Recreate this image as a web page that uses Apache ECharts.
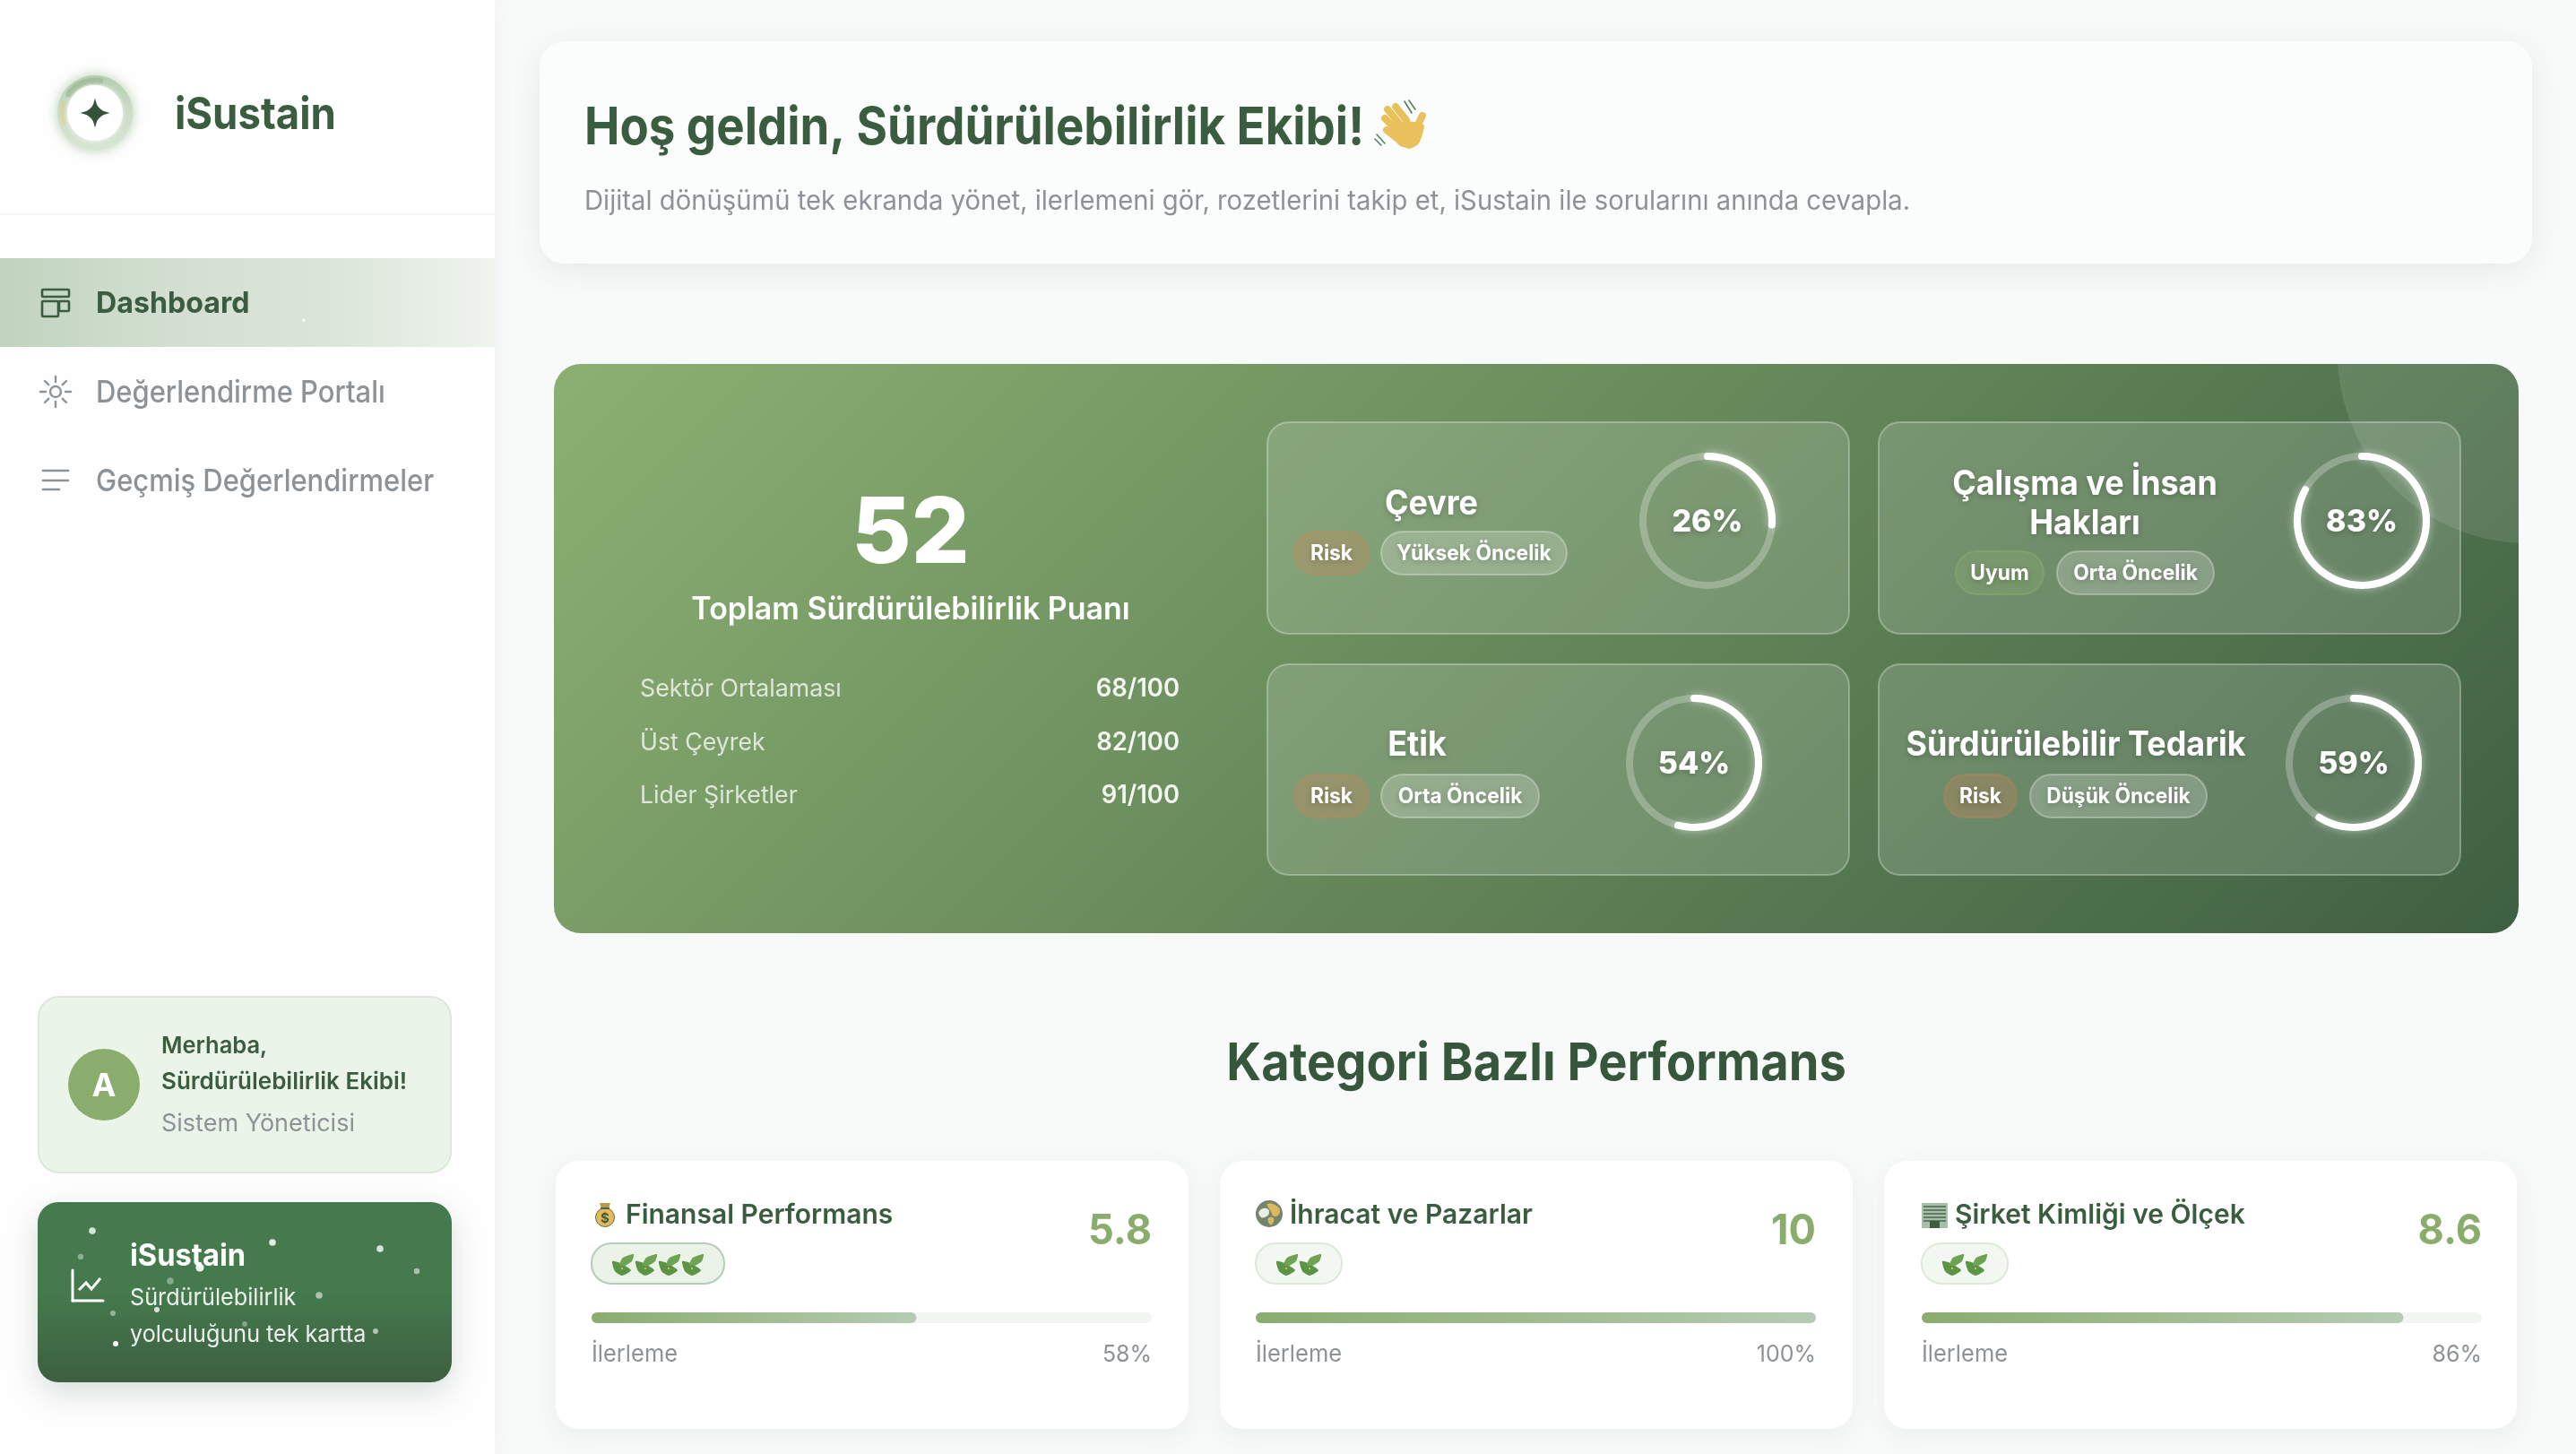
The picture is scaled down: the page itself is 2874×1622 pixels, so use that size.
<!DOCTYPE html>
<html lang="tr">
<head>
<meta charset="utf-8">
<title>iSustain</title>
<script src="https://cdn.jsdelivr.net/npm/echarts@6/dist/echarts.min.js"></script>
<style>
html, body { margin: 0; padding: 0; background: #f8faf9; }
#main { width: 2874px; height: 1622px; }
</style>
</head>
<body>
<div id="main"></div>
<script>
// veriler
var totalScore = 52;
var benchmarkLabels = ['Sektör Ortalaması', 'Üst Çeyrek', 'Lider Şirketler'];
var benchmarkValues = ['68/100', '82/100', '91/100'];
var pillarNames = ['Çevre', 'Çalışma ve İnsan Hakları', 'Etik', 'Sürdürülebilir Tedarik'];
var pillarScores = [26, 83, 54, 59];
var pillarTypes = ['Risk', 'Uyum', 'Risk', 'Risk'];
var pillarPriorities = ['Yüksek Öncelik', 'Orta Öncelik', 'Orta Öncelik', 'Düşük Öncelik'];
var categoryNames = ['Finansal Performans', 'İhracat ve Pazarlar', 'Şirket Kimliği ve Ölçek'];
var categoryScores = ['5.8', '10', '8.6'];
var categoryProgress = [58, 100, 86];
var categoryLeaves = [4, 2, 2];
var navItems = ['Dashboard', 'Değerlendirme Portalı', 'Geçmiş Değerlendirmeler'];

// renkler
var DARK = '#3a5c3f';
var GREEN = '#8aad6e';
var GRAY = '#8d9296';
var FONT = 'Inter';

var elements = [];

function add(type, shape, style, extra) {
    var el = { type: type, shape: shape, style: style };
    for (var k in extra) {
        el[k] = extra[k];
    }
    elements.push(el);
}

function rect(x, y, w, h, r, style) {
    add('rect', { x: x, y: y, width: w, height: h, r: r }, style);
}

function circle(cx, cy, r, style) {
    add('circle', { cx: cx, cy: cy, r: r }, style);
}

function line(x1, y1, x2, y2, color, w) {
    add('line', { x1: x1, y1: y1, x2: x2, y2: y2 }, { stroke: color, lineWidth: w, lineCap: 'round' });
}

// sx: referanstaki dar harf aralığı için yatay sıkıştırma
function text(x, y, str, size, weight, fill, align, sx, shadow) {
    var style = {
        text: str,
        x: 0,
        y: 0,
        fill: fill,
        font: weight + ' ' + size + 'px ' + FONT,
        textAlign: align || 'left',
        textVerticalAlign: 'middle'
    };
    if (shadow) {
        style.textShadowColor = 'rgba(0,0,0,0.22)';
        style.textShadowBlur = 6;
        style.textShadowOffsetY = 2;
    }
    elements.push({ type: 'text', x: x, y: y + 2, scaleX: sx || 1, style: style });
}

function linear(x, y, x2, y2, stops) {
    var list = [];
    for (var i = 0; i < stops.length; i++) {
        list.push({ offset: i / (stops.length - 1), color: stops[i] });
    }
    return { type: 'linear', x: x, y: y, x2: x2, y2: y2, global: true, colorStops: list };
}

/* ---------- sol menü ---------- */
function drawSidebar() {
    rect(0, 0, 552, 1622, 0, { fill: '#fefefe', shadowBlur: 24, shadowColor: 'rgba(60,80,60,0.05)' });
    line(0, 239, 552, 239, '#f3f5f3', 2);

    // logo
    circle(106, 126, 42, { fill: linear(0, 84, 0, 168, ['#b4cdb1', '#cbdcc7', '#d9e6d5']), shadowBlur: 14, shadowColor: 'rgba(150,185,140,0.7)' });
    add('arc', { cx: 106, cy: 126, r: 36, startAngle: Math.PI * 1.2, endAngle: Math.PI * 1.55 }, { stroke: 'rgba(150,180,135,0.6)', lineWidth: 7, fill: null, lineCap: 'round' });
    add('arc', { cx: 106, cy: 126, r: 36, startAngle: Math.PI * 0.9, endAngle: Math.PI * 1.1 }, { stroke: 'rgba(232,205,120,0.45)', lineWidth: 5, fill: null, lineCap: 'round' });
    circle(106, 126, 31, { fill: '#ffffff', shadowBlur: 5, shadowColor: 'rgba(255,255,255,0.9)' });
    var star = [];
    for (var i = 0; i < 32; i++) {
        var a = i / 32 * Math.PI * 2;
        var c = Math.abs(Math.cos(a));
        var s = Math.abs(Math.sin(a));
        var r = 16.5 / Math.pow(Math.pow(c, 0.6) + Math.pow(s, 0.6), 1 / 0.6);
        star.push([106 + Math.cos(a) * r, 126 + Math.sin(a) * r]);
    }
    add('polygon', { points: star }, { fill: '#35533b' });
    text(195, 127, 'iSustain', 50, 700, DARK, 'left', 0.91);

    // aktif satır
    rect(0, 288, 552, 99, 0, { fill: linear(0, 0, 552, 0, ['#c1d3bf', '#d2dfd0', '#dbe5d9', '#eff4ee']) });
    circle(339, 357, 2, { fill: 'rgba(255,255,255,0.6)' });

    text(107, 337, navItems[0], 33, 700, DARK, 'left', 0.975);
    text(107, 437, navItems[1], 34, 500, GRAY, 'left', 0.91);
    text(107, 536, navItems[2], 34, 500, GRAY, 'left', 0.91);

    // menü ikonları
    var iconStyle = { stroke: DARK, fill: null, lineWidth: 2.6 };
    rect(47, 323, 30, 8, 1, iconStyle);
    rect(47, 336, 18, 17, 1, iconStyle);
    rect(66, 336, 11, 11, 1, iconStyle);

    circle(62, 437, 6, { stroke: GRAY, fill: null, lineWidth: 2.4 });
    for (var n = 0; n < 8; n++) {
        var t = n / 8 * Math.PI * 2;
        line(62 + Math.cos(t) * 11, 437 + Math.sin(t) * 11, 62 + Math.cos(t) * 17, 437 + Math.sin(t) * 17, GRAY, 2.4);
    }
    line(48, 525, 76, 525, GRAY, 2.6);
    line(48, 536, 76, 536, GRAY, 2.6);
    line(48, 546, 66, 546, GRAY, 2.6);

    // kullanıcı kartı
    rect(43, 1112, 460, 196, 23, { fill: '#eaf4e8', stroke: '#dce8da', lineWidth: 2 });
    circle(116, 1210, 40, { fill: GREEN });
    text(116, 1210, 'A', 36, 700, '#ffffff', 'center');
    text(180, 1165, 'Merhaba,', 26, 600, DARK, 'left', 0.98);
    text(180, 1205, 'Sürdürülebilirlik Ekibi!', 26, 600, DARK);
    text(180, 1252, 'Sistem Yöneticisi', 27, 400, GRAY);

    // koyu kart
    rect(42, 1341, 462, 201, 23, {
        fill: linear(0, 1341, 0, 1542, ['#447a4d', '#457a4d', '#3d5f40']),
        shadowBlur: 36,
        shadowOffsetY: 12,
        shadowColor: 'rgba(40,70,45,0.18)'
    });
    line(81, 1417, 81, 1451, '#ffffff', 3);
    line(81, 1451, 115, 1451, '#ffffff', 3);
    add('polyline', { points: [[88, 1439], [96, 1431], [102, 1438], [112, 1426]] }, { stroke: '#ffffff', fill: null, lineWidth: 3 });
    var dots = [[103, 1373, 3.8, 0.8], [90, 1402, 3.2, 0.4], [304, 1386, 3.8, 0.85], [424, 1393, 3.8, 0.8], [465, 1418, 3.2, 0.55],
        [223, 1414, 4.6, 0.9], [190, 1429, 3.8, 0.35], [356, 1445, 3.8, 0.55], [175, 1461, 3, 0.8], [126, 1465, 3, 0.45],
        [273, 1477, 3, 0.35], [419, 1485, 3, 0.6], [129, 1499, 3, 1], [388, 1496, 2.4, 0.2]];
    for (var d = 0; d < dots.length; d++) {
        circle(dots[d][0], dots[d][1], dots[d][2], { fill: 'rgba(255,255,255,' + dots[d][3] + ')' });
    }
    text(145, 1400, 'iSustain', 34, 700, '#ffffff', 'left', 0.96);
    text(145, 1446, 'Sürdürülebilirlik', 26, 400, 'rgba(255,255,255,0.9)', 'left', 0.97);
    text(145, 1487, 'yolculuğunu tek kartta', 26, 400, 'rgba(255,255,255,0.9)', 'left', 0.967);
}

/* ---------- karşılama ---------- */
function drawHeader() {
    rect(602, 46, 2223, 248, 28, { fill: '#fbfcfc', shadowBlur: 34, shadowOffsetY: 8, shadowColor: 'rgba(50,70,55,0.09)' });
    text(652, 142, 'Hoş geldin, Sürdürülebilirlik Ekibi!', 58, 700, DARK, 'left', 0.91);
    text(652, 223, 'Dijital dönüşümü tek ekranda yönet, ilerlemeni gör, rozetlerini takip et, iSustain ile sorularını anında cevapla.', 30, 400, GRAY, 'left', 0.975);

    // el sallayan el
    var hand = '#e9c15c';
    circle(1570, 150, 15, { fill: hand });
    add('polygon', { points: [[1557, 155], [1572, 166], [1583, 160], [1589, 140], [1580, 136], [1562, 140]], smooth: 0.2 }, { fill: hand });
    line(1569, 134, 1557, 119, hand, 8);
    line(1563, 140, 1548, 122, hand, 8);
    line(1560, 147, 1545, 132, hand, 8);
    line(1558, 154, 1547, 145, hand, 8);
    line(1580, 143, 1587, 129, hand, 8);
    var wave = '#55805a';
    line(1567, 113, 1575, 126, wave, 1.6);
    line(1572, 112, 1579, 122, wave, 1.6);
    line(1536, 150, 1545, 160, wave, 1.6);
    line(1534, 155, 1541, 162, wave, 1.6);
}

/* ---------- ana panel ---------- */
function drawHero() {
    rect(618, 406, 2192, 635, 30, { fill: linear(1006, 16, 2420, 1430, ['#8cb072', '#3e6042']) });

    // köşedeki yarı saydam daire
    var pts = [[2608, 406], [2780, 406]];
    var i, a;
    for (i = 1; i <= 10; i++) {
        a = -Math.PI / 2 + i / 10 * Math.PI / 2;
        pts.push([2780 + Math.cos(a) * 30, 436 + Math.sin(a) * 30]);
    }
    for (i = 0; i <= 30; i++) {
        a = 1.618 + i / 30 * (3.085 - 1.618);
        pts.push([2820 + Math.cos(a) * 212, 394 + Math.sin(a) * 212]);
    }
    add('polygon', { points: pts }, { fill: 'rgba(255,255,255,0.1)' });

    text(1016, 595, String(totalScore), 102, 800, '#ffffff', 'center');
    text(1016, 678, 'Toplam Sürdürülebilirlik Puanı', 35, 600, '#ffffff', 'center', 0.97);
    var rowY = [767, 827, 886];
    for (var r = 0; r < benchmarkLabels.length; r++) {
        text(714, rowY[r], benchmarkLabels[r], 27, 400, 'rgba(255,255,255,0.75)', 'left', 0.99);
        text(1316, rowY[r], benchmarkValues[r], 28, 600, 'rgba(255,255,255,0.92)', 'right', 0.98);
    }
}

// alt kartların yerleşimi
var pillarBoxes = [
    { x: 1414, y: 471, cx: 1905, cy: 581, titleX: 1597, titleY: [561], badgeX: 1444, badgeY: 593, badgeW: [83, 207], gap: 14 },
    { x: 2096, y: 471, cx: 2635, cy: 581, titleX: 2326, titleY: [539, 583], badgeX: 2182, badgeY: 615, badgeW: [98, 175], gap: 15 },
    { x: 1414, y: 741, cx: 1890, cy: 851, titleX: 1581, titleY: [830], badgeX: 1444, badgeY: 864, badgeW: [83, 176], gap: 14 },
    { x: 2096, y: 741, cx: 2626, cy: 851, titleX: 2316, titleY: [830], badgeX: 2169, badgeY: 864, badgeW: [81, 197], gap: 15 }
];
var pillarTitleLines = [['Çevre'], ['Çalışma ve İnsan', 'Hakları'], ['Etik'], ['Sürdürülebilir Tedarik']];

function drawPillars() {
    for (var i = 0; i < pillarBoxes.length; i++) {
        var b = pillarBoxes[i];
        rect(b.x, b.y, 649, i < 2 ? 236 : 235, 24, { fill: 'rgba(255,255,255,0.15)', stroke: 'rgba(255,255,255,0.3)', lineWidth: 2 });
        for (var l = 0; l < pillarTitleLines[i].length; l++) {
            text(b.titleX, b.titleY[l], pillarTitleLines[i][l], 38, 700, '#ffffff', 'center', 0.945, true);
        }
        var isRisk = pillarTypes[i] === 'Risk';
        rect(b.badgeX, b.badgeY, b.badgeW[0], 48, 24, {
            fill: isRisk ? 'rgba(215,130,85,0.28)' : 'rgba(138,174,112,0.3)',
            stroke: isRisk ? 'rgba(215,130,85,0.3)' : 'rgba(138,174,112,0.5)',
            lineWidth: 2
        });
        text(b.badgeX + b.badgeW[0] / 2, b.badgeY + 23, pillarTypes[i], 24, 700, '#ffffff', 'center', 0.95, true);
        var px = b.badgeX + b.badgeW[0] + b.gap;
        rect(px, b.badgeY, b.badgeW[1], 48, 24, { fill: 'rgba(255,255,255,0.2)', stroke: 'rgba(255,255,255,0.3)', lineWidth: 2 });
        text(px + b.badgeW[1] / 2, b.badgeY + 23, pillarPriorities[i], 24, 700, '#ffffff', 'center', 0.95, true);
    }
}

/* ---------- kategori kartları ---------- */
var categoryBoxes = [
    { x: 620, trackX: 660, titleX: 698 },
    { x: 1361, trackX: 1401, titleX: 1439 },
    { x: 2102, trackX: 2144, titleX: 2181 }
];

function drawLeaf(x, y) {
    add('polygon', { points: [[x - 1, y + 7], [x + 8, y + 9], [x + 20, y + 17], [x + 10, y + 23], [x + 2, y + 18]], smooth: 0.2 }, { fill: '#5c9445' });
    add('polygon', { points: [[x + 7, y + 11], [x + 11, y + 3], [x + 23, y - 1], [x + 21, y + 7], [x + 13, y + 12]], smooth: 0.2 }, { fill: '#6ea353' });
    circle(x + 10, y + 15, 1, { fill: '#e2cf6a' });
}

function drawCategoryIcon(i) {
    if (i === 0) {
        // para kesesi
        circle(675, 1358, 10.5, { fill: '#e5b95a', stroke: '#5a7050', lineWidth: 1 });
        add('polygon', { points: [[669, 1342], [681, 1342], [679, 1349], [671, 1349]] }, { fill: '#b79a4a' });
        rect(670, 1347, 10, 2, 0, { fill: '#4a6648' });
        text(675, 1357, '$', 15, 700, '#3e5c40', 'center');
    } else if (i === 1) {
        // dünya
        circle(1416, 1354, 15, { fill: '#74846f' });
        add('polygon', { points: [[1414, 1343], [1424, 1345], [1428, 1352], [1422, 1357], [1417, 1350]], smooth: 0.5 }, { fill: '#d9b95c' });
        add('polygon', { points: [[1405, 1351], [1413, 1348], [1416, 1353], [1411, 1358], [1406, 1357]], smooth: 0.5 }, { fill: '#e8eee4' });
        add('polygon', { points: [[1415, 1359], [1421, 1359], [1419, 1366], [1416, 1365]], smooth: 0.5 }, { fill: '#d9b95c' });
    } else {
        // bina
        rect(2144, 1342, 29, 28, 0, { fill: '#a9bdab' });
        for (var r = 0; r < 5; r++) {
            rect(2146, 1345 + r * 4, 25, 2, 0, { fill: '#5f7d63' });
        }
        rect(2153, 1362, 11, 8, 0, { fill: '#3e5c40' });
    }
}

function drawCategories() {
    text(1714, 1186, 'Kategori Bazlı Performans', 58, 700, '#36573c', 'center', 0.935);
    for (var i = 0; i < categoryBoxes.length; i++) {
        var b = categoryBoxes[i];
        rect(b.x, 1295, 706, 299, 26, { fill: '#ffffff', shadowBlur: 30, shadowOffsetY: 8, shadowColor: 'rgba(50,70,55,0.07)' });
        drawCategoryIcon(i);
        text(b.titleX, 1354, categoryNames[i], 30, 600, DARK);
        text(b.trackX + 625, 1372, categoryScores[i], 47, 700, GREEN, 'right', 0.96);

        var n = categoryLeaves[i];
        rect(b.trackX, 1387, 44 + 26 * n, 45, 22, {
            fill: n > 2 ? '#ebf3e9' : '#f2f7f1',
            stroke: n > 2 ? '#b5cdb5' : '#deead9',
            lineWidth: 2
        });
        for (var k = 0; k < n; k++) {
            drawLeaf(b.trackX + 24 + k * 26, 1400);
        }
        text(b.trackX, 1509, 'İlerleme', 26, 400, GRAY, 'left', 0.98);
        text(b.trackX + 625, 1509, categoryProgress[i] + '%', 26, 400, GRAY, 'right', 0.96);
    }
}

drawSidebar();
drawHeader();
drawHero();
drawPillars();
drawCategories();

/* ---------- seriler ---------- */
var series = [];
var grids = [];
var xAxes = [];
var yAxes = [];

pillarNames.forEach(function (name, i) {
    series.push({
        type: 'gauge',
        center: [pillarBoxes[i].cx, pillarBoxes[i].cy],
        radius: 76,
        startAngle: 90,
        endAngle: -270,
        min: 0,
        max: 100,
        pointer: { show: false },
        axisLine: { lineStyle: { width: 8, color: [[1, 'rgba(255,255,255,0.26)']] } },
        progress: {
            show: true,
            roundCap: true,
            width: 8,
            itemStyle: { color: '#ffffff', shadowBlur: 10, shadowColor: 'rgba(255,255,255,0.5)' }
        },
        splitLine: { show: false },
        axisTick: { show: false },
        axisLabel: { show: false },
        title: { show: false },
        detail: {
            offsetCenter: [0, 2],
            formatter: '{value}%',
            color: '#ffffff',
            fontFamily: FONT,
            fontWeight: 800,
            fontSize: 34,
            textShadowColor: 'rgba(0,0,0,0.22)',
            textShadowBlur: 6,
            textShadowOffsetY: 2
        },
        data: [{ value: pillarScores[i], name: name }]
    });
});

categoryNames.forEach(function (name, i) {
    grids.push({ left: categoryBoxes[i].trackX, top: 1464, width: 625, height: 12 });
    xAxes.push({ gridIndex: i, type: 'value', min: 0, max: 100, show: false });
    yAxes.push({ gridIndex: i, type: 'category', data: [name], show: false });
    series.push({
        type: 'bar',
        xAxisIndex: i,
        yAxisIndex: i,
        barWidth: 12,
        showBackground: true,
        backgroundStyle: { color: '#f3f5f2', borderRadius: 6 },
        itemStyle: {
            borderRadius: 6,
            color: { type: 'linear', x: 0, y: 0, x2: 1, y2: 0, colorStops: [{ offset: 0, color: GREEN }, { offset: 1, color: '#b5ccb3' }] }
        },
        data: [categoryProgress[i]]
    });
});

var myChart = echarts.init(document.getElementById('main'));
myChart.setOption({
    animation: false,
    backgroundColor: '#f8faf9',
    textStyle: { fontFamily: FONT },
    graphic: { elements: elements },
    grid: grids,
    xAxis: xAxes,
    yAxis: yAxes,
    series: series
});
</script>
</body>
</html>
